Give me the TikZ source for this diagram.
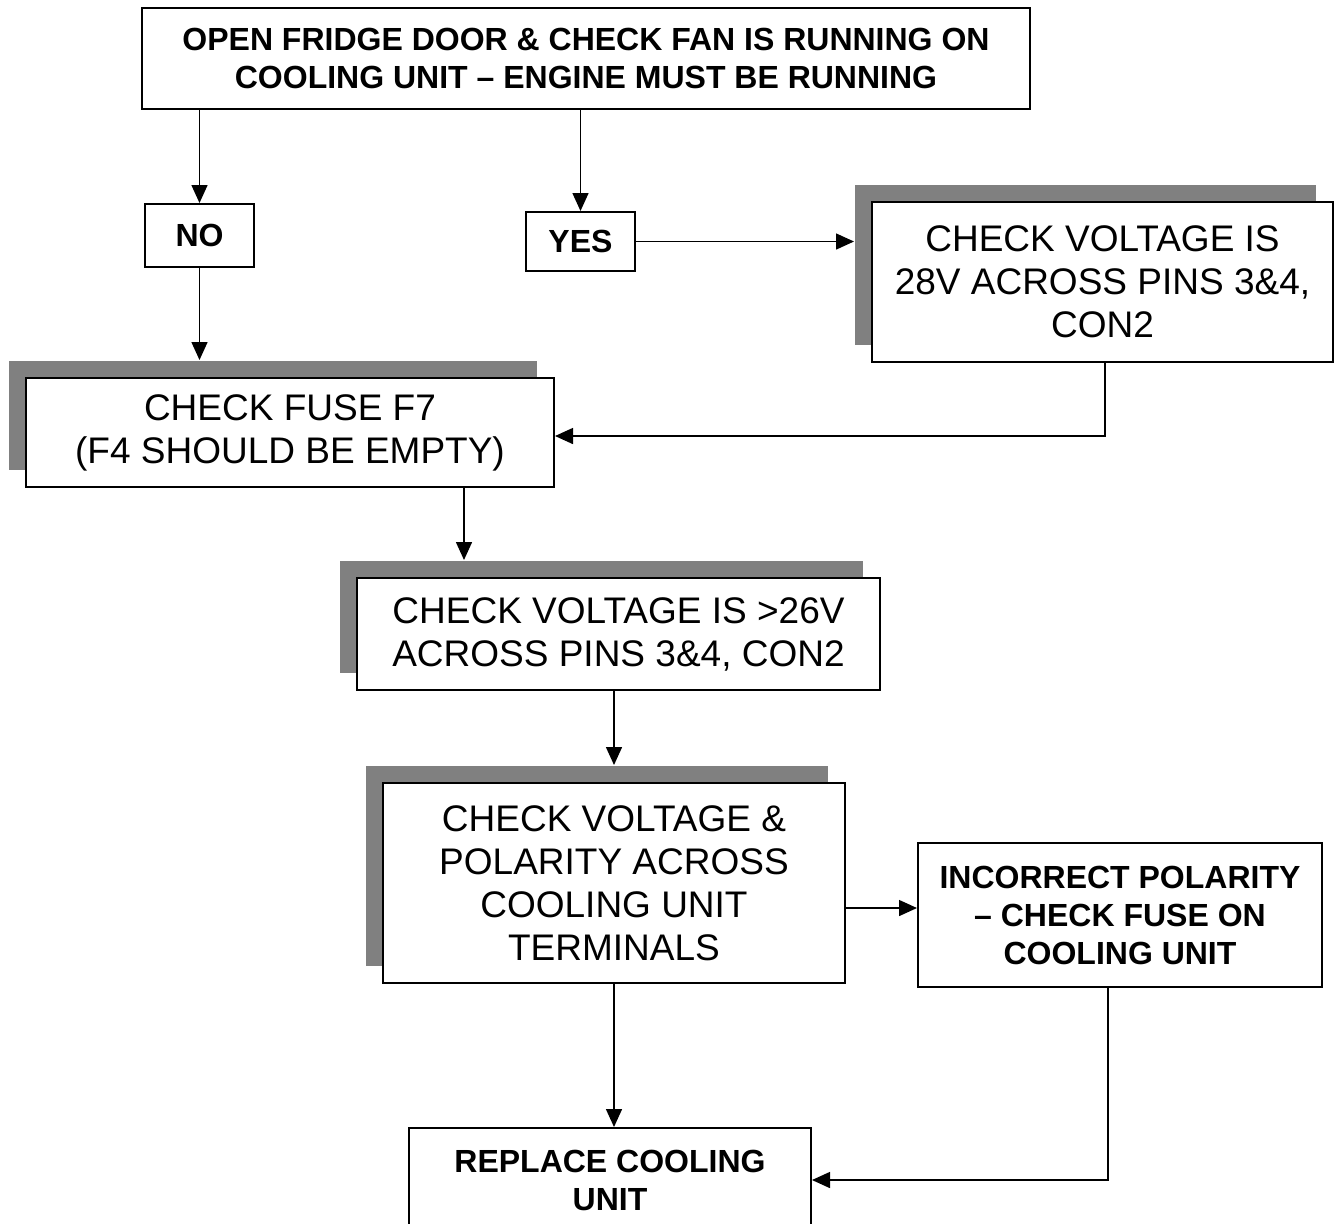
\documentclass[tikz,border=0pt]{standalone}
\usepackage{fontspec}
\setmainfont{Liberation Sans}
\usetikzlibrary{arrows.meta,shadows}

\begin{document}
\begin{tikzpicture}[x=0.5pt, y=-0.5pt, >={Triangle[length=9pt,width=8pt]}, line width=0.75pt,
  box/.style={draw, line width=1pt, fill=white, align=center, inner sep=0pt,
    font=\fontsize{18.5}{21.5}\selectfont},
  bbox/.style={box, font=\bfseries\fontsize{16}{19}\selectfont},
  shd/.style={box, drop shadow={shadow xshift=-8.5pt, shadow yshift=8.5pt, opacity=1, fill=black!50}}]
  \useasboundingbox (0,0) rectangle (1339,1223);
  \clip (0,0) rectangle (1339,1223);
  \node[bbox, minimum width=444pt, minimum height=50.5pt] (start) at (586,58.5)
    {OPEN FRIDGE DOOR \& CHECK FAN IS RUNNING ON\\COOLING UNIT – ENGINE MUST BE RUNNING};
  \node[bbox, minimum width=54.5pt, minimum height=31.5pt] (no) at (199.5,235.5) {NO};
  \node[bbox, minimum width=54.5pt, minimum height=29.5pt] (yes) at (580.5,241.5) {YES};
  \node[shd, minimum width=230.5pt, minimum height=80pt] (v28) at (1102.5,282)
    {CHECK VOLTAGE IS\\28V ACROSS PINS 3\&4,\\CON2};
  \node[shd, minimum width=264pt, minimum height=54.5pt] (fuse) at (290,432.5)
    {CHECK FUSE F7\\(F4 SHOULD BE EMPTY)};
  \node[shd, minimum width=261.5pt, minimum height=56pt] (v26) at (618.5,634)
    {CHECK VOLTAGE IS >26V\\ACROSS PINS 3\&4, CON2};
  \node[shd, minimum width=231pt, minimum height=100pt] (pol) at (614,883)
    {CHECK VOLTAGE \&\\POLARITY ACROSS\\COOLING UNIT\\TERMINALS};
  \node[bbox, minimum width=202pt, minimum height=72pt] (inc) at (1120,915)
    {INCORRECT POLARITY\\– CHECK FUSE ON\\COOLING UNIT};
  \node[bbox, minimum width=201pt, minimum height=52pt] (rep) at (610,1180)
    {REPLACE COOLING\\UNIT};
  % connectors
  \draw[->] (no |- start.south) -- (no.north);
  \draw[->] (yes |- start.south) -- (yes.north);
  \draw[->, shorten >=8.5pt] (yes.east) -- (yes.east -| v28.west);
  \draw[->, shorten >=8.5pt] (no.south) -- (no.south |- fuse.north);
  \draw[->] ([xshift=1.25pt]v28.south) |- ([yshift=-1.75pt]fuse.east);
  \draw[->, shorten >=8.5pt] ([xshift=87pt]fuse.south) -- ([xshift=87pt]fuse.south |- v26.north);
  \draw[->, shorten >=8.5pt] (pol.north |- v26.south) -- (pol.north);
  \draw[->] ([yshift=-12.5pt]pol.east) -- ([yshift=-12.5pt]pol.east -| inc.west);
  \draw[->] (pol.south) -- (pol.south |- rep.north);
  \draw[->] ([xshift=-6pt]inc.south) |- (rep.east);
\end{tikzpicture}
\end{document}
